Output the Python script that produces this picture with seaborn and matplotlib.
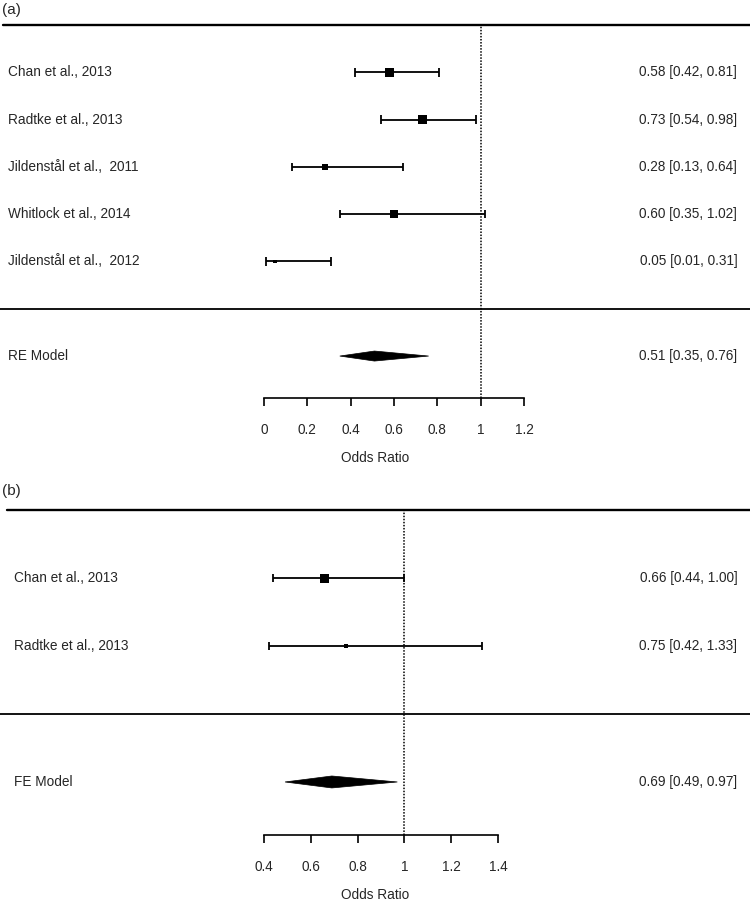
import matplotlib.pyplot as plt
import seaborn as sns

# (a) random-effects meta-analysis
studies_a = ['Chan et al., 2013', 'Radtke et al., 2013', 'Jildenstål et al.,  2011',
             'Whitlock et al., 2014', 'Jildenstål et al.,  2012']
or_a = [0.58, 0.73, 0.28, 0.60, 0.05]
lo_a = [0.42, 0.54, 0.13, 0.35, 0.01]
hi_a = [0.81, 0.98, 0.64, 1.02, 0.31]
weight_a = [30, 31, 13, 21, 5]
model_a = ['RE Model', 0.51, 0.35, 0.76]
ticks_a = [0, 0.2, 0.4, 0.6, 0.8, 1, 1.2]

# (b) fixed-effect meta-analysis
studies_b = ['Chan et al., 2013', 'Radtke et al., 2013']
or_b = [0.66, 0.75]
lo_b = [0.44, 0.42]
hi_b = [1.00, 1.33]
weight_b = [88, 12]
model_b = ['FE Model', 0.69, 0.49, 0.97]
ticks_b = [0.4, 0.6, 0.8, 1, 1.2, 1.4]

sns.set_style('white')
plt.rcParams['font.family'] = ['Liberation Sans', 'DejaVu Sans']
plt.rcParams['font.size'] = 9.8

fig = plt.figure(figsize=(7.5, 9.05), dpi=100)


def forest(ax, tag, studies, ors, los, his, weights, model, ticks,
           xlim, ylim, axis_y, cap, dh, max_area, lab_x, top_x, tag_y):
    n = len(studies)
    rows = list(range(n + 1, 1, -1))
    top = n + 2
    ax.set_xlim(*xlim)
    ax.set_ylim(*ylim)

    ax.axhline(top, xmin=top_x, xmax=1, color='black', lw=1.7)
    ax.axhline(1, xmin=0, xmax=1, color='black', lw=1.3)
    ax.vlines(1, axis_y, top, colors='black', linestyles=(0, (1.0, 1.0)), lw=1.1)

    # confidence intervals with end caps
    ax.hlines(rows, los, his, colors='black', lw=1.3)
    ax.vlines(los, [r - cap for r in rows], [r + cap for r in rows], colors='black', lw=1.3)
    ax.vlines(his, [r - cap for r in rows], [r + cap for r in rows], colors='black', lw=1.3)
    sns.scatterplot(x=ors, y=rows, size=weights, sizes=(0, max_area), size_norm=(0, 100),
                    marker='s', color='black', linewidth=0, legend=False, ax=ax, zorder=3)

    # summary diamond
    name, est, lo, hi = model
    ax.fill([lo, est, hi, est], [0, dh, 0, -dh], color='black', lw=0.5)

    tr = ax.get_yaxis_transform()
    for s, r, e, l, h in zip(studies + [name], rows + [0], ors + [est], los + [lo], his + [hi]):
        ax.text(lab_x, r, s, transform=tr, ha='left', va='center')
        ax.text(0.983, r, f'{e:.2f} [{l:.2f}, {h:.2f}]', transform=tr, ha='right', va='center')

    ax.text(0.003, tag_y, tag, transform=ax.transAxes, ha='left', va='center', fontsize=11)

    for side in ['top', 'right', 'left']:
        ax.spines[side].set_visible(False)
    ax.spines['bottom'].set_position(('data', axis_y))
    ax.spines['bottom'].set_bounds(ticks[0], ticks[-1])
    ax.spines['bottom'].set_linewidth(1.2)
    ax.spines['bottom'].set_color('black')
    ax.set_yticks([])
    ax.set_xticks(ticks)
    ax.set_xticklabels([f'{t:g}' for t in ticks])
    ax.tick_params(axis='x', direction='out', length=5.5, width=1.2, color='black',
                   bottom=True, pad=12.5)
    ax.set_xlabel('Odds Ratio', labelpad=10)


ax_a = fig.add_axes([0, 1 - 470 / 905, 1, 470 / 905])
forest(ax_a, '(a)', studies_a, or_a, lo_a, hi_a, weight_a, model_a, ticks_a,
       xlim=(-1.218, 2.243), ylim=(-2.41, 7.53), axis_y=-0.89, cap=0.09, dh=0.106,
       max_area=140, lab_x=0.011, top_x=0.004, tag_y=0.979)

ax_b = fig.add_axes([0, 0, 1, 435 / 905])
forest(ax_b, '(b)', studies_b, or_b, lo_b, hi_b, weight_b, model_b, ticks_b,
       xlim=(-0.728, 2.477), ylim=(-1.81, 4.59), axis_y=-0.78, cap=0.065, dh=0.088,
       max_area=48, lab_x=0.019, top_x=0.009, tag_y=0.952)

fig.savefig('out.png', dpi=100)
